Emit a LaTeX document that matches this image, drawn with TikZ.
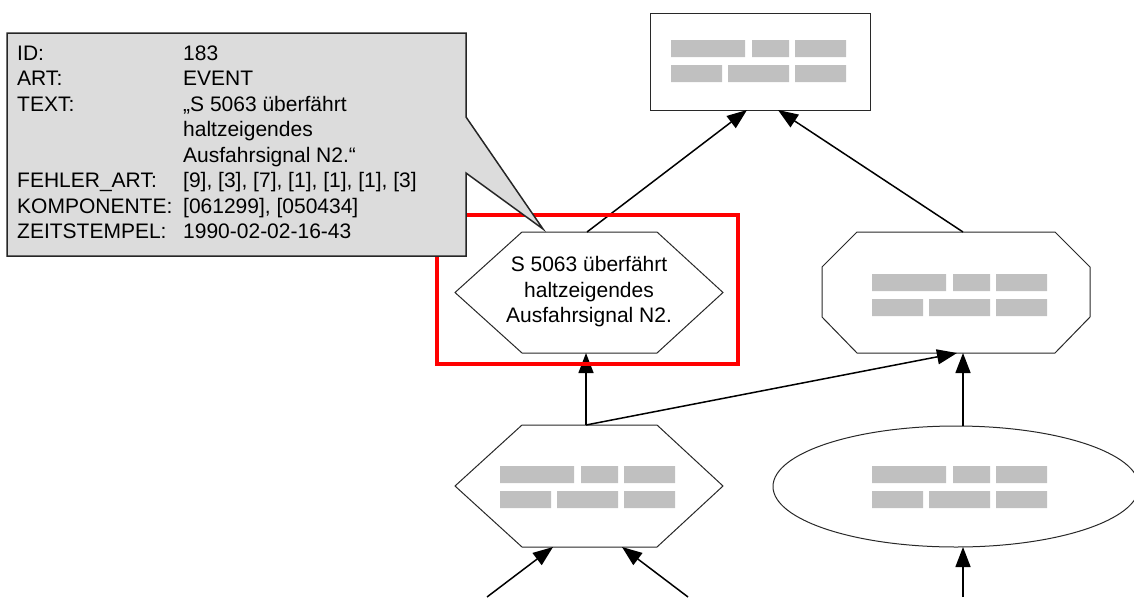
\documentclass[tikz,border=0pt]{standalone}
\usepackage{fontspec}
\setmainfont{Liberation Sans}
\usetikzlibrary{arrows.meta}
\definecolor{callgray}{RGB}{220,220,220}
\definecolor{bargray}{RGB}{192,192,192}
\definecolor{shapeline}{RGB}{40,40,40}
\begin{document}
\begin{tikzpicture}[x=1pt,y=-1pt,
  shapeborder/.style={draw=shapeline, line width=1pt, fill=white},
  conn/.style={draw=black, line width=1.5pt, -{Triangle[length=20pt,width=15pt]}},
  txt/.style={font=\fontsize{21}{25.5}\selectfont, inner sep=0pt},
  bars/.pic={
    \fill[bargray] (0,0) rectangle (74,17) (81,0) rectangle (118,17) (124,0) rectangle (175,17)
                   (0,25) rectangle (51,42) (57,25) rectangle (118,42) (124,25) rectangle (175,42);
  }]
\useasboundingbox (0,0) rectangle (1134,597);

% top rectangle
\node[shapeborder, rectangle, minimum width=220pt, minimum height=97pt, inner sep=0pt] (top) at (760,61.5) {};
\pic at (671,40) {bars};

% event hexagon
\draw[shapeborder] (455,292.5) -- (522,232) -- (657,232) -- (723,292.5) -- (657,353) -- (522,353) -- cycle;
\node[txt, align=center] (hexA) at (589,292) {S 5063 überfährt\\haltzeigendes\\Ausfahrsignal N2.};

% octagon
\draw[shapeborder] (857,232) -- (1055,232) -- (1090,267) -- (1090,317) -- (1055,353) -- (857,353) -- (822,317) -- (822,267) -- cycle;
\pic at (872,274) {bars};

% lower hexagon
\draw[shapeborder] (455,486) -- (522,425) -- (657,425) -- (723,486) -- (657,547) -- (522,547) -- cycle;
\pic at (500,466) {bars};

% ellipse
\draw[shapeborder] (956,486.5) ellipse [x radius=183, y radius=60.5];
\pic at (872,466) {bars};

% anchor coordinates
\coordinate (top-in1) at (747,110);
\coordinate (top-in2) at (778,110);
\coordinate (hexA-n) at (587,232);
\coordinate (hexA-s) at (586,353);
\coordinate (oct-n) at (963,232);
\coordinate (oct-s1) at (957,353);
\coordinate (oct-s2) at (963,353);
\coordinate (hexB-n) at (586,425);
\coordinate (hexB-sw) at (553,547);
\coordinate (hexB-se) at (622,547);
\coordinate (ell-n) at (963,426);
\coordinate (ell-s) at (963,547);
\coordinate (inL) at (487,597);
\coordinate (inR) at (688,597);
\coordinate (inE) at (963,597);

% connectors
\draw[conn] (hexA-n) -- (top-in1);
\draw[conn] (oct-n) -- (top-in2);
\draw[conn] (hexB-n) -- (hexA-s);
\draw[conn] (hexB-n) -- (oct-s1);
\draw[conn] (ell-n) -- (oct-s2);
\draw[conn] (inL) -- (hexB-sw);
\draw[conn] (inR) -- (hexB-se);
\draw[conn] (inE) -- (ell-s);

% red highlight
\node[draw=red, line width=4pt, minimum width=301pt, minimum height=149pt, inner sep=0pt] (focus) at (587.5,289.5) {};

% callout
\draw[fill=callgray, draw=black!85, line width=1.5pt, line join=miter]
  (7,33) -- (466,33) -- (466,117) -- (543,229) -- (466,173) -- (466,256) -- (7,256) -- cycle;
\node[txt, anchor=north west] (info) at (17,42) {%
\begin{tabular}{@{}p{166pt}@{}l@{}}
ID: & 183\\
ART: & EVENT\\
TEXT: & „S 5063 überfährt\\
 & haltzeigendes\\
 & Ausfahrsignal N2.“\\
FEHLER\_ART: & [9], [3], [7], [1], [1], [1], [3]\\
KOMPONENTE: & [061299], [050434]\\
ZEITSTEMPEL: & 1990-02-02-16-43
\end{tabular}};
\end{tikzpicture}
\end{document}
